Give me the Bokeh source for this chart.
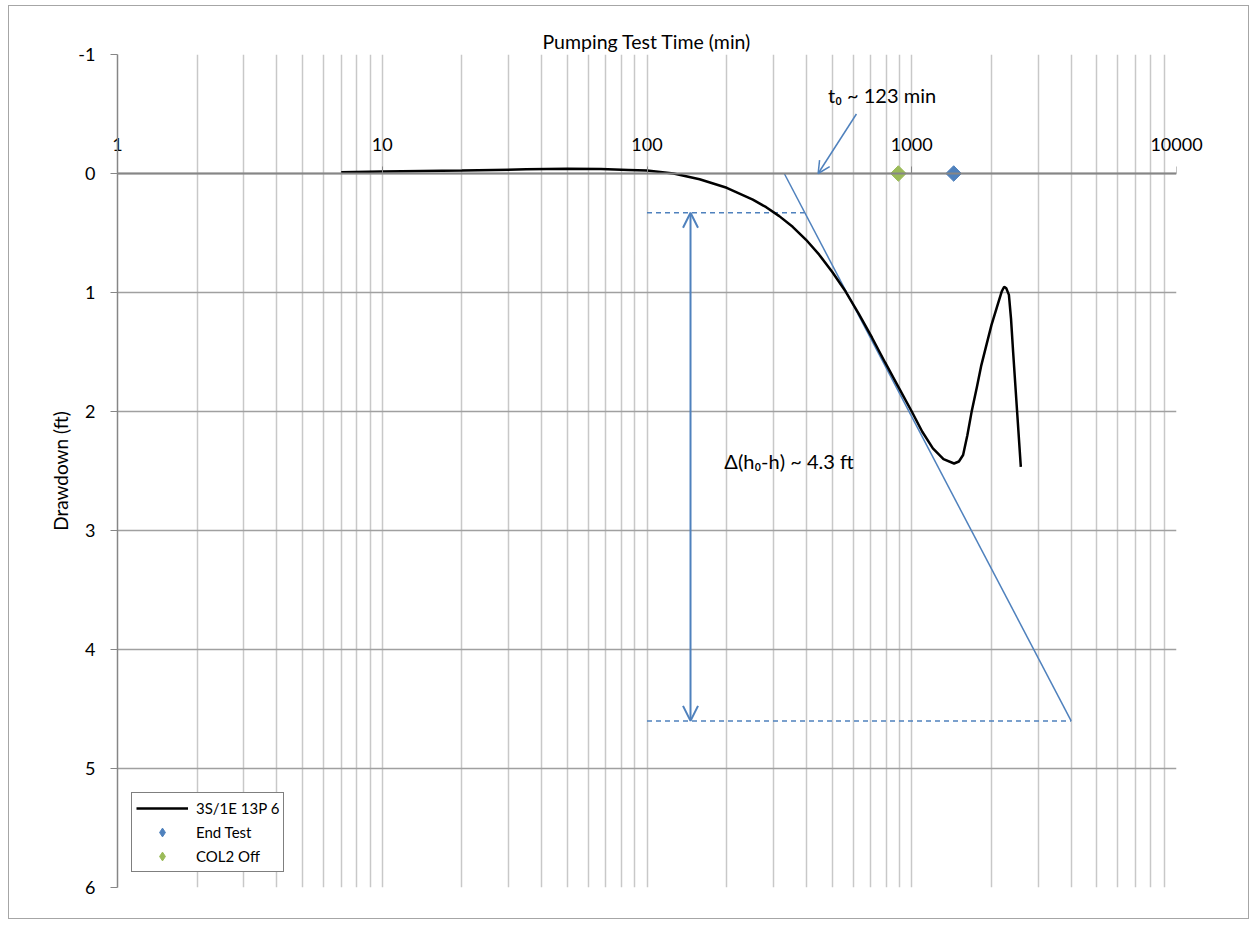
import numpy as np
from bokeh.plotting import figure
from bokeh.models import (Range1d, FixedTicker, Arrow, OpenHead, Legend, LegendItem,
                          LogAxis, NumeralTickFormatter)
from bokeh.core.properties import value
from bokeh.embed import file_html
from bokeh.resources import INLINE

# ---------------- data ----------------
time_min = [7, 10, 20, 35, 50, 67, 85, 100, 126, 158, 200, 251, 282, 316, 355, 398,
            447, 501, 562, 631, 708, 794, 891, 1000, 1096, 1202, 1318, 1445, 1507,
            1563, 1622, 1683, 1760, 1832, 1915, 2000, 2113, 2188, 2234, 2275, 2328,
            2371, 2415, 2500, 2582]
drawdown_ft = [-0.01, -0.017, -0.025, -0.035, -0.04, -0.037, -0.03, -0.025, 0.0, 0.048,
               0.12, 0.22, 0.283, 0.358, 0.448, 0.555, 0.682, 0.828, 0.99, 1.18, 1.38,
               1.59, 1.795, 2.0, 2.17, 2.31, 2.40, 2.437, 2.42, 2.366, 2.2, 2.003, 1.80,
               1.61, 1.44, 1.274, 1.10, 0.99, 0.952, 0.965, 1.02, 1.22, 1.50, 2.0, 2.465]

end_test_t = [1440]
end_test_d = [0]
col2_off_t = [890]
col2_off_d = [0]

trend_t = [330, 4000]
trend_d = [0, 4.6]

upper_dash_t = [100, 393]
upper_dash_d = [0.33, 0.33]
lower_dash_t = [100, 4000]
lower_dash_d = [4.6, 4.6]

delta_arrow_t = 146
delta_arrow_d = [0.33, 4.6]

t0_arrow_start = (618, -0.5)
t0_arrow_end = (443, 0.0)

t0_label = "t\u2080 ~ 123 min"
t0_label_pos = (483, -0.66)
delta_label = "\u0394(h\u2080-h) ~ 4.3 ft"
delta_label_pos = (196, 2.42)

x_ticks = [1, 10, 100, 1000, 10000]
y_ticks = [-1, 0, 1, 2, 3, 4, 5, 6]
y_tick_labels = ["-1", "0", "1", "2", "3", "4", "5", "6"]

FONT = "Lato"
BLUE = "#4F81BD"
GREEN = "#9BBB59"

# vertical grid positions (log decades and their 2..9 multiples)
grid_x = [m * 10 ** k for k in range(0, 4) for m in range(1, 10)] + [10000]

p = figure(width=1241, height=914, x_axis_type="log", x_axis_location="above",
           x_range=Range1d(1, 10000), y_range=Range1d(6, -1),
           output_backend="svg", toolbar_location=None,
           min_border_left=108, min_border_right=74, min_border_top=48,
           min_border_bottom=33)
p.outline_line_color = None
p.background_fill_color = "white"
p.border_fill_color = "white"
p.styles = {"border": "1px solid #A6A6A6", "margin-left": "8px", "margin-top": "5px"}

# top axis: its tick labels are pulled down to sit just above the drawdown = 0 line,
# its title is the chart's x axis title
xa = p.xaxis[0]
xa.ticker = FixedTicker(ticks=x_ticks)
xa.formatter = NumeralTickFormatter(format="0")
xa.axis_line_color = None
xa.major_tick_line_color = None
xa.major_tick_out = 0
xa.major_tick_in = 0
xa.minor_tick_line_color = None
xa.major_label_text_font = FONT
xa.major_label_text_font_size = "18px"
xa.major_label_text_color = "black"
xa.major_label_standoff = -96
xa.axis_label = "Pumping Test Time (min)"
xa.axis_label_text_font = FONT
xa.axis_label_text_font_size = "19.5px"
xa.axis_label_text_font_style = "normal"
xa.axis_label_text_color = "black"
xa.axis_label_standoff = 82

# axis line crossing at drawdown = 0
x0 = LogAxis(fixed_location=0, ticker=FixedTicker(ticks=x_ticks),
             axis_line_color="#868686", axis_line_width=2,
             major_tick_line_color="#868686", major_tick_out=7, major_tick_in=0,
             minor_tick_line_color=None, major_label_text_color=None,
             major_label_text_font_size="0px")
p.add_layout(x0, "above")

ya = p.yaxis[0]
ya.ticker = FixedTicker(ticks=y_ticks)
ya.major_label_overrides = {t: s for t, s in zip(y_ticks, y_tick_labels)}
ya.axis_line_color = "#868686"
ya.axis_line_width = 1.5
ya.major_tick_line_color = "#868686"
ya.major_tick_out = 7
ya.major_tick_in = 0
ya.minor_tick_line_color = None
ya.major_label_text_font = FONT
ya.major_label_text_font_size = "18px"
ya.major_label_text_color = "black"
ya.major_label_standoff = 15
ya.axis_label = "Drawdown (ft)"
ya.axis_label_text_font = FONT
ya.axis_label_text_font_size = "19px"
ya.axis_label_text_font_style = "normal"
ya.axis_label_text_color = "black"
ya.axis_label_standoff = 3

p.xgrid.ticker = FixedTicker(ticks=grid_x)
p.xgrid.grid_line_color = "#C8C8C8"
p.xgrid.grid_line_width = 1.5
p.ygrid.ticker = FixedTicker(ticks=y_ticks)
p.ygrid.grid_line_color = "#A0A0A0"
p.ygrid.grid_line_width = 1.5

# helper lines
p.line(trend_t, trend_d, line_color=BLUE, line_width=1.5)
p.line(upper_dash_t, upper_dash_d, line_color=BLUE, line_width=1.5, line_dash="5 4")
p.line(lower_dash_t, lower_dash_d, line_color=BLUE, line_width=1.5, line_dash="5 4")

p.add_layout(Arrow(start=OpenHead(size=15, line_color=BLUE, line_width=2),
                   end=OpenHead(size=15, line_color=BLUE, line_width=2),
                   x_start=delta_arrow_t, y_start=delta_arrow_d[0],
                   x_end=delta_arrow_t, y_end=delta_arrow_d[1],
                   line_color=BLUE, line_width=2))
p.add_layout(Arrow(end=OpenHead(size=12, line_color=BLUE, line_width=1.5),
                   x_start=t0_arrow_start[0], y_start=t0_arrow_start[1],
                   x_end=t0_arrow_end[0], y_end=t0_arrow_end[1],
                   line_color=BLUE, line_width=1.5))

# data
r_line = p.line(time_min, drawdown_ft, line_color="black", line_width=2.5)
# diamond-marker copies (used for the legend swatches, hidden under the markers)
r_end_leg = p.scatter(end_test_t, end_test_d, marker="diamond", size=11,
                      fill_color=BLUE, line_color=BLUE)
r_col_leg = p.scatter(col2_off_t, col2_off_d, marker="diamond", size=11,
                      fill_color=GREEN, line_color=GREEN)
p.scatter(end_test_t, end_test_d, marker="square", angle=np.pi / 4, size=11,
          fill_color=BLUE, line_color=BLUE)
p.scatter(col2_off_t, col2_off_d, marker="square", angle=np.pi / 4, size=11,
          fill_color=GREEN, line_color=GREEN)

p.text(x=[t0_label_pos[0]], y=[t0_label_pos[1]], text=[t0_label],
       text_font=value(FONT), text_font_size="20px", text_baseline="middle",
       text_align="left", text_color="black")
p.text(x=[delta_label_pos[0]], y=[delta_label_pos[1]], text=[delta_label],
       text_font=value(FONT), text_font_size="20px", text_baseline="middle",
       text_align="left", text_color="black")

legend = Legend(items=[LegendItem(label="3S/1E 13P 6", renderers=[r_line]),
                       LegendItem(label="End Test", renderers=[r_end_leg]),
                       LegendItem(label="COL2 Off", renderers=[r_col_leg])],
                location=(14, 15), padding=4, spacing=2, glyph_width=52, glyph_height=22,
                label_height=20, label_standoff=8, margin=0,
                label_text_font=FONT, label_text_font_size="15px",
                label_text_color="black",
                border_line_color="black", border_line_width=1.5,
                background_fill_color="white", background_fill_alpha=1)
p.add_layout(legend)

open("out.html", "w").write(file_html(p, INLINE))
